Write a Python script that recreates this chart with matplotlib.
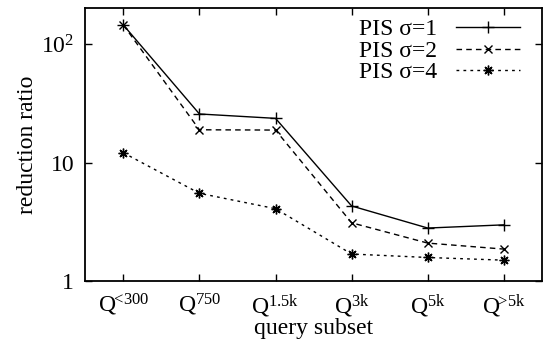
import matplotlib
matplotlib.use("Agg")
import matplotlib.pyplot as plt
from matplotlib.ticker import FixedLocator, FixedFormatter, NullLocator

plt.rcParams['font.family'] = ['Liberation Serif', 'DejaVu Serif']
plt.rcParams['mathtext.fontset'] = 'custom'
plt.rcParams['mathtext.rm'] = 'Liberation Serif'
plt.rcParams['mathtext.it'] = 'Liberation Serif:italic'

subsets = [r'$\mathrm{Q}^{\!\!<\!300}$', r'$\mathrm{Q}^{\mathrm{750}}$',
           r'$\mathrm{Q}^{\mathrm{1.5k}}$', r'$\mathrm{Q}^{\mathrm{3k}}$',
           r'$\mathrm{Q}^{\mathrm{5k}}$', r'$\mathrm{Q}^{\!\!>\!\mathrm{5k}}$']
pis1 = [145, 25.7, 23.6, 4.3, 2.8, 2.98]
pis2 = [145, 18.9, 18.8, 3.1, 2.09, 1.86]
pis4 = [12.1, 5.5, 4.08, 1.69, 1.58, 1.5]

x = list(range(len(subsets)))

fig = plt.figure(figsize=(5.43, 3.39), dpi=100)
ax = fig.add_axes([0.157, 0.171, 0.841, 0.805])

ax.plot(x, pis1, color='black', lw=1.0, ls='-', marker='+', ms=8, mew=1.0, label='PIS σ=1')
ax.plot(x, pis2, color='black', lw=1.0, ls=(0, (4, 3)), marker='x', ms=6, mew=1.0, label='PIS σ=2')
ax.plot(x, pis4, color='black', lw=1.0, ls=(0, (2, 3)), marker=(8, 2, 0), ms=7, mew=1.0, label='PIS σ=4')

ax.set_yscale('log')
ax.set_ylim(1, 201)
ax.set_xlim(-0.5, 5.5)
ax.yaxis.set_major_locator(FixedLocator([1, 10, 100]))
ax.yaxis.set_major_formatter(FixedFormatter(['1', '10', r'$10^2$']))
ax.yaxis.set_minor_locator(NullLocator())
ax.set_xticks(x)
ax.set_xticklabels(subsets)

ax.tick_params(direction='in', length=5, width=1.0, labelsize=17,
               top=True, right=True, pad=8)
for s in ax.spines.values():
    s.set_linewidth(1.3)

ax.set_ylabel('reduction ratio', fontsize=17, labelpad=2)
ax.set_xlabel('query subset', fontsize=17, labelpad=-1)

ax.legend(loc='upper right', frameon=False, fontsize=17, markerfirst=False,
          handlelength=2.7, labelspacing=0.0, borderaxespad=0.05, handletextpad=0.8,
          bbox_to_anchor=(0.975, 1.0))

fig.savefig('out.png', dpi=100)
